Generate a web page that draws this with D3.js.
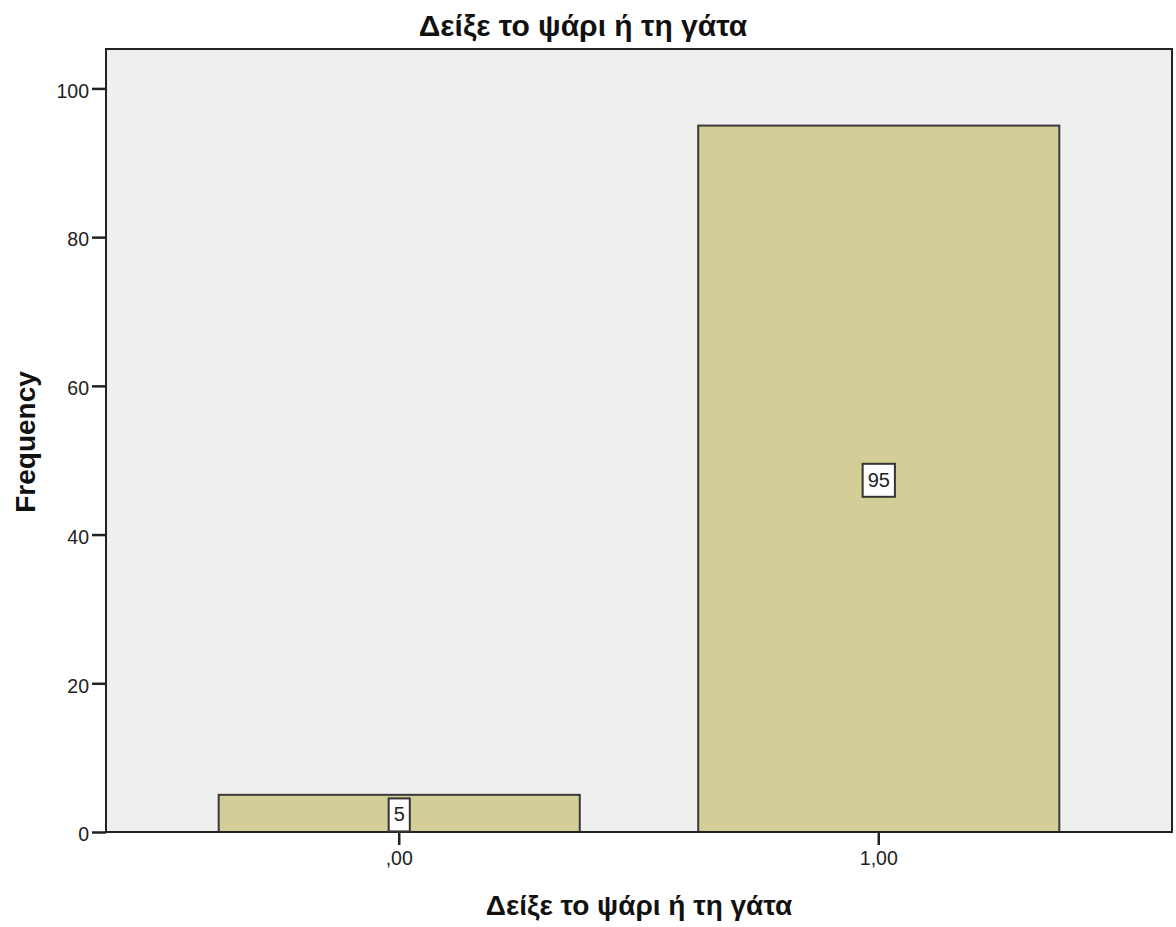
<!DOCTYPE html>
<html><head><meta charset="utf-8">
<script src="https://cdn.jsdelivr.net/npm/d3@7"></script>
<style>body{margin:0;background:#fff}svg{display:block}text{font-family:"Liberation Sans",Arial,sans-serif}</style>
</head><body>
<svg id="c" width="1176" height="927"></svg>
<script>
const categories = [",00", "1,00"];
const frequencies = [5, 95];
const yTicks = [0, 20, 40, 60, 80, 100];
const titleText = "Δείξε το ψάρι ή τη γάτα";
const xTitle = "Δείξε το ψάρι ή τη γάτα";
const yTitle = "Frequency";

const svg = d3.select("#c");
const m = {left:106, top:49, right:1172, bottom:832};
const x = d3.scaleBand().domain(categories).range([m.left, m.right]).paddingInner(0.247).paddingOuter(0.235);
const y = d3.scaleLinear().domain([0, 105.3]).range([m.bottom, m.top]);

svg.append("rect").attr("x", m.left).attr("y", m.top).attr("width", m.right-m.left).attr("height", m.bottom-m.top)
  .attr("fill", "#efefef").attr("stroke", "#222").attr("stroke-width", 2);

const data = categories.map((c,i)=>({c, v:frequencies[i]}));
svg.selectAll("rect.bar").data(data).enter().append("rect").attr("class","bar")
  .attr("x", d=>x(d.c)).attr("width", x.bandwidth())
  .attr("y", d=>y(d.v)).attr("height", d=>y(0)-y(d.v))
  .attr("fill", "#d3ce97").attr("stroke", "#3a3a3a").attr("stroke-width", 2);

// axes
const ya = svg.append("g").attr("transform", `translate(${m.left},0)`)
  .call(d3.axisLeft(y).tickValues(yTicks).tickSize(14).tickPadding(3).tickFormat(d3.format("d")));
ya.select(".domain").remove();
ya.selectAll("line").attr("stroke", "#222").attr("stroke-width", 2.5);
ya.selectAll("text").attr("font-size", 19.5).attr("fill", "#222").attr("dy", "0.45em");

const xa = svg.append("g").attr("transform", `translate(0,${m.bottom})`)
  .call(d3.axisBottom(x).tickSize(13).tickPadding(6));
xa.select(".domain").remove();
xa.selectAll("line").attr("stroke", "#222").attr("stroke-width", 2.5);
xa.selectAll("text").attr("font-size", 19.5).attr("fill", "#222");

svg.append("line").attr("x1", m.left).attr("x2", m.right).attr("y1", m.bottom).attr("y2", m.bottom)
  .attr("stroke", "#222").attr("stroke-width", 2);

// value labels
const lab = svg.selectAll("g.lab").data(data).enter().append("g").attr("class","lab")
  .attr("transform", d=>`translate(${x(d.c)+x.bandwidth()/2},${y(d.v/2)})`);
lab.each(function(d){
  const g = d3.select(this);
  const t = g.append("text").attr("text-anchor","middle").attr("dy","0.4em").attr("font-size",20).attr("fill","#222").text(d.v);
  const w = t.node().getComputedTextLength();
  g.insert("rect","text").attr("x", -w/2-5).attr("y", -15).attr("width", w+10).attr("height", 33)
    .attr("fill","#fff").attr("stroke","#333").attr("stroke-width",2);
});

svg.append("text").attr("x", 583).attr("y", 36).attr("text-anchor","middle").attr("font-size",30).attr("font-weight","bold").attr("fill","#111").text(titleText);
svg.append("text").attr("x", 639).attr("y", 915).attr("text-anchor","middle").attr("font-size",28).attr("font-weight","bold").attr("fill","#111").text(xTitle);
svg.append("text").attr("transform","translate(35,442) rotate(-90)").attr("text-anchor","middle").attr("font-size",28).attr("font-weight","bold").attr("fill","#111").text(yTitle);
</script>
</body></html>
